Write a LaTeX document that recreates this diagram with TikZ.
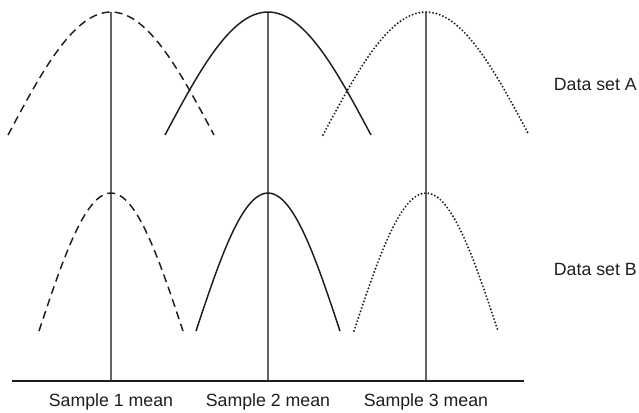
\documentclass[tikz,border=0pt]{standalone}
\usepackage{fontspec}
\setmainfont{Liberation Sans}
\usetikzlibrary{positioning}
\definecolor{meanclr}{HTML}{636363}
\definecolor{curveclr}{HTML}{1E1E1E}
\tikzset{
  meanline/.style = {draw=meanclr, line width=1pt},
  axisline/.style = {draw=curveclr, line width=1pt},
  bell/.style     = {draw=curveclr, line width=1.1pt, smooth, samples=41},
  firstset/.style = {bell, dash pattern=on 6pt off 3.8pt},
  secondset/.style= {bell},
  thirdset/.style = {bell, line width=1.6pt, line cap=round,
                     dash pattern=on 0pt off 2.6pt},
  txt/.style      = {font=\fontsize{13.3}{16}\selectfont, inner sep=0pt,
                     text=curveclr},
}

\begin{document}
\begin{tikzpicture}[x=0.75pt, y=-0.75pt]
\useasboundingbox (0,0) rectangle (639,412);

%% --- mean lines and axis ----------------------------------------------
\coordinate (m1t) at (111,12);  \coordinate (m1b) at (111,381);
\coordinate (m2t) at (268,12);  \coordinate (m2b) at (268,381);
\coordinate (m3t) at (426,12);  \coordinate (m3b) at (426,381);
\coordinate (axl) at (12,381);  \coordinate (axr) at (524,381);

\draw[meanline] (m1t) -- (m1b);
\draw[meanline] (m2t) -- (m2b);
\draw[meanline] (m3t) -- (m3b);
\draw[axisline] (axl) -- (axr);

%% =====================================================================
%% Data set A (wide spread)
%% =====================================================================
\draw[firstset]  plot[domain=-103:103] ({111+\x}, {12+123*(1-cos(90*\x/103))});
\draw[secondset] plot[domain=-103:103] ({268+\x}, {12+123*(1-cos(90*\x/103))});
\draw[thirdset]  plot[domain=-103:103] ({426+\x}, {12+123*(1-cos(90*\x/103))});

%% =====================================================================
%% Data set B (narrow spread)
%% =====================================================================
\draw[firstset]  plot[domain=-72:72] ({111+\x}, {193+138*(1-cos(90*\x/72))});
\draw[secondset] plot[domain=-72:72] ({268+\x}, {193+138*(1-cos(90*\x/72))});
\draw[thirdset]  plot[domain=-72:72] ({426+\x}, {193+138*(1-cos(90*\x/72))});

%% --- labels ------------------------------------------------------------
\node[txt, anchor=east] (setA) at (637,84)  {Data set A};
\node[txt, anchor=east] (setB) at (637,269) {Data set B};
\node[txt] (mean1) at (111,402) {Sample 1 mean};
\node[txt] (mean2) at (268,402) {Sample 2 mean};
\node[txt] (mean3) at (426,402) {Sample 3 mean};

\end{tikzpicture}
\end{document}
